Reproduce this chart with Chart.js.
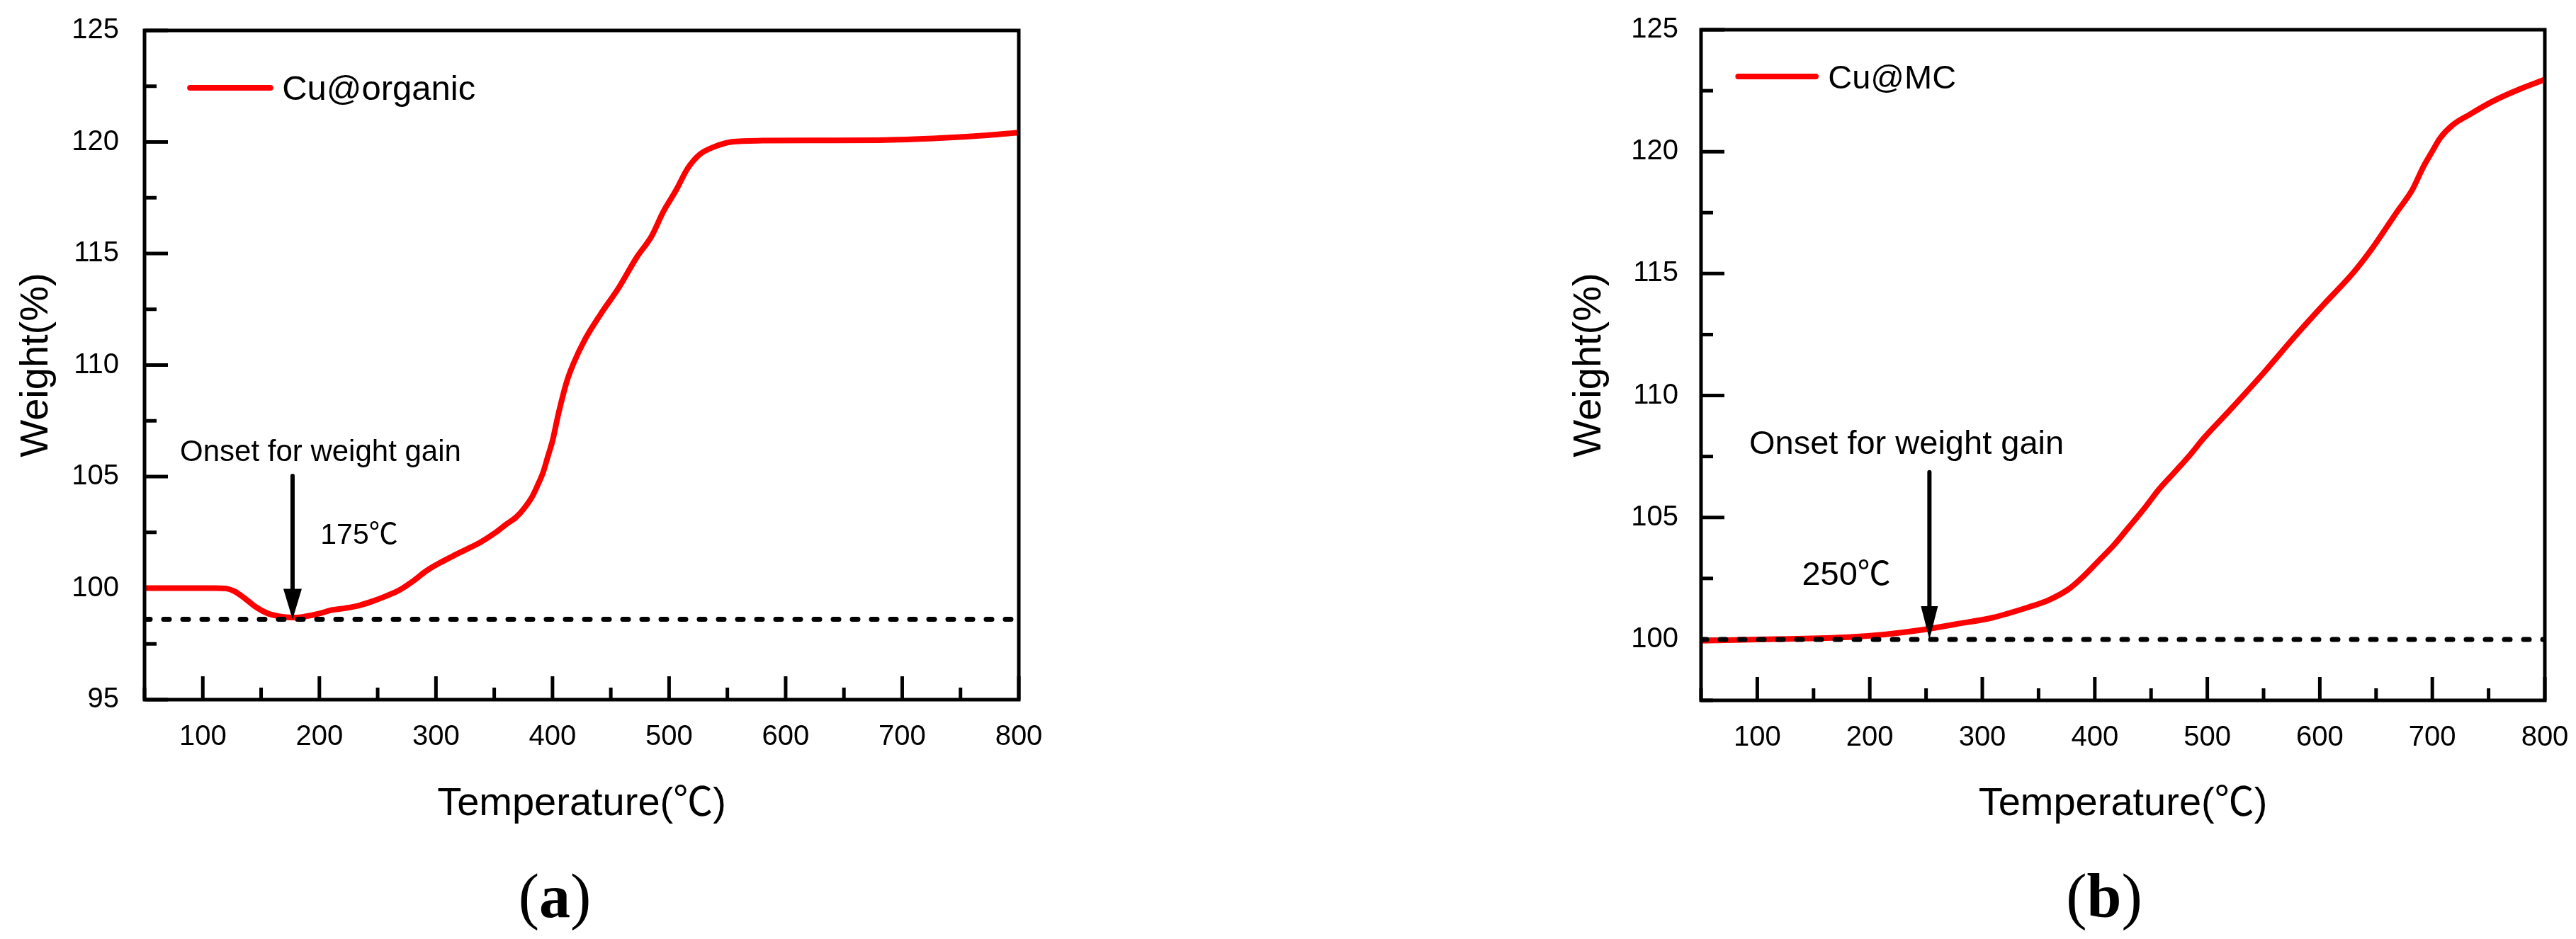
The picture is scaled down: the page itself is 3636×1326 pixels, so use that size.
<!DOCTYPE html>
<html>
<head>
<meta charset="utf-8">
<script src="https://cdn.jsdelivr.net/npm/chart.js@4.4.0/dist/chart.umd.min.js"></script>
<style>
  html, body { margin: 0; padding: 0; background: #fff; }
  #wrap { position: relative; width: 3636px; height: 1326px; }
  canvas { position: absolute; top: 0; }
  #chartA { left: 0; }
  #chartB { left: 1818px; }
</style>
</head>
<body>
<div id="wrap">
  <canvas id="chartA" width="1818" height="1326"></canvas>
  <canvas id="chartB" width="1818" height="1326"></canvas>
</div>
<script>
// (a) Cu@organic
const tempA = [50, 80, 110, 120, 127, 136, 145, 155, 164, 173, 180, 187, 200, 210, 222, 234, 245, 257,
  269, 280, 292, 304, 315, 327, 338, 350, 360, 369, 376, 383, 388, 392, 396, 400, 405, 412, 418,
  428, 441, 457, 472, 485, 495, 506, 516, 526, 539, 554, 580, 630, 680, 735, 773, 800];
const weightA = [100.0, 100.0, 100.0, 99.98, 99.86, 99.54, 99.17, 98.88, 98.75, 98.69, 98.68, 98.72, 98.86, 99.01, 99.1, 99.22, 99.4, 99.64,
  99.92, 100.3, 100.78, 101.15, 101.45, 101.76, 102.05, 102.45, 102.85, 103.19, 103.6, 104.14, 104.7, 105.2, 105.9, 106.6, 107.8, 109.22, 110.07,
  111.16, 112.26, 113.48, 114.81, 115.78, 116.87, 117.84, 118.82, 119.43, 119.79, 120.01, 120.06, 120.07, 120.08, 120.18, 120.3, 120.42];

// (b) Cu@MC
const tempB = [50, 117, 181, 213, 245, 277, 309, 341, 358, 377, 390, 404, 417, 430, 444, 457, 470, 484,
  497, 520, 550, 577, 603, 630, 646, 669, 682, 692, 700, 707, 718, 733, 753, 779, 800];
const weightB = [99.95, 100.01, 100.09, 100.2, 100.38, 100.63, 100.89, 101.32, 101.59, 102.07, 102.59, 103.25, 103.87, 104.59, 105.37, 106.15, 106.81, 107.53,
  108.26, 109.4, 110.93, 112.38, 113.71, 115.05, 116.0, 117.56, 118.42, 119.38, 120.02, 120.56, 121.09, 121.52, 122.05, 122.59, 122.96];

// axes
const tempRange = [50, 800];
const weightRangeA = [95, 125];
const weightRangeB = [97.5, 125];
const baselineA = 98.6;   // dotted reference line
const baselineB = 100.0;
const onsetA = 177;       // arrow position
const onsetB = 253;

const FONT = "'Liberation Sans', Arial, 'Noto Sans CJK SC', sans-serif";
const SERIF = "'Liberation Serif', 'Times New Roman', serif";

const isMult = (v, m) => Math.abs(v / m - Math.round(v / m)) < 1e-6;

// inward ticks (from the scales' own ticks) under the curves, box on top
const framePlugin = {
  id: 'frame',
  beforeDatasetsDraw(chart) {
    const { ctx, chartArea: a, scales: { x, y } } = chart;
    ctx.save();
    ctx.strokeStyle = '#000';
    ctx.lineWidth = 5;
    ctx.lineCap = 'butt';
    x.ticks.forEach(t => {
      const px = x.getPixelForValue(t.value);
      const len = isMult(t.value, 100) ? 33 : 17;
      ctx.beginPath(); ctx.moveTo(px, a.bottom); ctx.lineTo(px, a.bottom - len); ctx.stroke();
    });
    y.ticks.forEach(t => {
      const py = y.getPixelForValue(t.value);
      const len = isMult(t.value, 5) ? 33 : 17;
      ctx.beginPath(); ctx.moveTo(a.left, py); ctx.lineTo(a.left + len, py); ctx.stroke();
    });
    ctx.restore();
  },
  afterDatasetsDraw(chart) {
    const { ctx, chartArea: a } = chart;
    ctx.save();
    ctx.strokeStyle = '#000';
    ctx.lineWidth = 5;
    ctx.lineJoin = 'miter';
    ctx.strokeRect(a.left, a.top, a.right - a.left, a.bottom - a.top);
    ctx.restore();
  }
};

// legend, onset arrow, texts, panel letter
const annotPlugin = {
  id: 'annot',
  afterDraw(chart, args, o) {
    const { ctx, scales: { x, y } } = chart;
    const X = v => x.getPixelForValue(v), Y = v => y.getPixelForValue(v);
    ctx.save();

    // legend
    ctx.strokeStyle = '#ff0000';
    ctx.lineWidth = 8;
    ctx.lineCap = 'round';
    ctx.beginPath();
    ctx.moveTo(X(o.legend.x1), Y(o.legend.y));
    ctx.lineTo(X(o.legend.x2), Y(o.legend.y));
    ctx.stroke();
    ctx.fillStyle = '#000';
    ctx.textAlign = 'left';
    ctx.textBaseline = 'alphabetic';
    ctx.font = o.legend.size + 'px ' + FONT;
    ctx.fillText(o.legend.text, X(o.legend.tx), Y(o.legend.ty));

    // onset text
    ctx.font = o.onset.size + 'px ' + FONT;
    ctx.fillText('Onset for weight gain', X(o.onset.tx), Y(o.onset.ty));
    ctx.font = o.temp.size + 'px ' + FONT;
    ctx.fillText(o.temp.text, X(o.temp.tx), Y(o.temp.ty));

    // arrow
    const ax = X(o.arrow.x), y1 = Y(o.arrow.from), y2 = Y(o.arrow.to);
    const hl = o.arrow.head, hw = o.arrow.half;
    ctx.strokeStyle = '#000';
    ctx.lineWidth = 6;
    ctx.lineCap = 'round';
    ctx.beginPath(); ctx.moveTo(ax, y1); ctx.lineTo(ax, y2 - hl + 2); ctx.stroke();
    ctx.beginPath();
    ctx.moveTo(ax - hw, y2 - hl);
    ctx.lineTo(ax + hw, y2 - hl);
    ctx.lineTo(ax, y2);
    ctx.closePath();
    ctx.fill();

    // panel letter: "(" regular, letter bold, ")" regular
    const p = o.panel;
    const reg = '88px ' + SERIF, bold = 'bold 88px ' + SERIF;
    ctx.font = reg; const wl = ctx.measureText('(').width, wr = ctx.measureText(')').width;
    ctx.font = bold; const wm = ctx.measureText(p.letter).width;
    let px = p.cx - (wl + wm + wr) / 2;
    ctx.font = reg; ctx.fillText('(', px, p.base); px += wl;
    ctx.font = bold; ctx.fillText(p.letter, px, p.base); px += wm;
    ctx.font = reg; ctx.fillText(')', px, p.base);

    ctx.restore();
  }
};

function makeChart(id, temps, weights, yRange, base, L) {
  return new Chart(document.getElementById(id), {
    type: 'line',
    data: {
      datasets: [
        {
          data: [{ x: tempRange[0], y: base }, { x: tempRange[1], y: base }],
          borderColor: '#000', borderWidth: 7, borderDash: [8, 19], borderCapStyle: 'round',
          pointRadius: 0
        },
        {
          data: temps.map((t, i) => ({ x: t, y: weights[i] })),
          borderColor: '#ff0000', borderWidth: 8, pointRadius: 0,
          cubicInterpolationMode: 'monotone'
        }
      ]
    },
    options: {
      responsive: false,
      animation: false,
      devicePixelRatio: 1,
      layout: { padding: L.padding },
      plugins: { legend: { display: false }, tooltip: { enabled: false }, annot: L.annot },
      scales: {
        x: {
          type: 'linear', min: tempRange[0], max: tempRange[1],
          afterFit(s) { s.height = L.xAxisH; s.paddingLeft = 0; s.paddingRight = 0; },
          grid: { display: false, drawTicks: false },
          border: { display: false },
          ticks: {
            stepSize: 50, padding: 29, color: '#000', maxRotation: 0, autoSkip: false,
            font: { family: FONT, size: 40 },
            callback: v => isMult(v, 100) ? String(v) : ''
          },
          title: {
            display: true, text: 'Temperature(℃)', color: '#000',
            font: { family: FONT, size: 56 }, padding: { top: 0, bottom: 157 }
          }
        },
        y: {
          type: 'linear', min: yRange[0], max: yRange[1],
          afterFit(s) { s.width = L.yAxisW; s.paddingTop = 0; s.paddingBottom = 0; },
          grid: { display: false, drawTicks: false },
          border: { display: false },
          ticks: {
            stepSize: 2.5, padding: L.yTickPad, color: '#000', autoSkip: false,
            font: { family: FONT, size: 40 },
            callback: v => isMult(v, 5) ? String(v) : ''
          },
          title: {
            display: true, text: 'Weight(%)', color: '#000',
            font: { family: FONT, size: 56 }, padding: { top: L.yTitlePad, bottom: 0 }
          }
        }
      }
    },
    plugins: [framePlugin, annotPlugin]
  });
}

makeChart('chartA', tempA, weightA, weightRangeA, baselineA, {
  padding: { left: 0, top: 43, right: 380, bottom: 0 },
  xAxisH: 338, yAxisW: 204, yTickPad: 36, yTitlePad: 18,
  annot: {
    legend: { x1: 89, x2: 158, y: 122.43, text: 'Cu@organic', tx: 168, ty: 121.9, size: 49 },
    onset: { tx: 80.4, ty: 105.7, size: 42 },
    temp: { text: '175℃', tx: 200.9, ty: 102.0, size: 41 },
    arrow: { x: onsetA, from: 105.03, to: baselineA, head: 43, half: 13 },
    panel: { letter: 'a', cx: 783, base: 1295 }
  }
});

makeChart('chartB', tempB, weightB, weightRangeB, baselineB, {
  padding: { left: 370, top: 42, right: 44, bottom: 0 },
  xAxisH: 337, yAxisW: 213, yTickPad: 32, yTitlePad: 22,
  annot: {
    legend: { x1: 83, x2: 152, y: 123.08, text: 'Cu@MC', tx: 162.9, ty: 122.59, size: 47 },
    onset: { tx: 92.8, ty: 107.6, size: 47 },
    temp: { text: '250℃', tx: 139.7, ty: 102.24, size: 47 },
    arrow: { x: onsetB, from: 106.86, to: baselineB, head: 47, half: 12 },
    panel: { letter: 'b', cx: 1152, base: 1295 }
  }
});
</script>
</body>
</html>
